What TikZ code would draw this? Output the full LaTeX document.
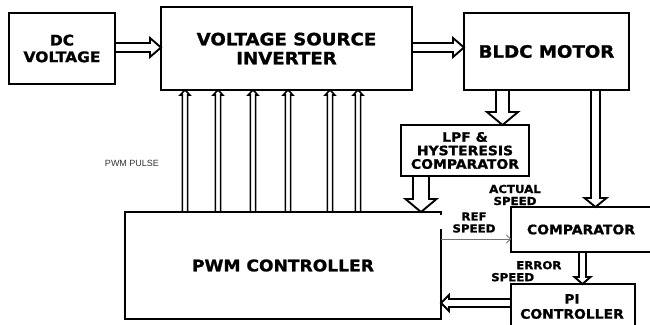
\documentclass[tikz,border=0pt]{standalone}
\usepackage{fontspec}
\setmainfont{DejaVu Sans}[BoldFeatures={FakeStretch=1.07,FakeBold=1.2}]
\newfontfamily\libsans{Liberation Sans}
\usetikzlibrary{calc,arrows.meta}
\tikzset{
  box/.style={draw, line width=1.9pt, outer sep=0pt, inner sep=0pt, align=center},
  fbig/.style={font=\bfseries\fontsize{17}{19}\selectfont},
  fdc/.style={font=\bfseries\fontsize{14.5}{16.7}\selectfont},
  fmid/.style={font=\bfseries\fontsize{13}{13.5}\selectfont},
  fpi/.style={font=\bfseries\fontsize{13}{15}\selectfont},
  fsmall/.style={font=\bfseries\fontsize{11}{12}\selectfont, inner sep=0pt, align=center},
  hollow/.style n args={3}{line width=1.9pt, line join=miter, to path={let \p1=(\tikztostart), \p2=(\tikztotarget), \p3=($(\p2)!#1!(\p1)$) in ($(\p1)!#2!90:(\p2)$) -- ($(\p3)!#2!-90:(\p1)$) -- ($(\p3)!#3!-90:(\p1)$) -- (\p2) -- ($(\p3)!#3!90:(\p1)$) -- ($(\p3)!#2!90:(\p1)$) -- ($(\p1)!#2!-90:(\p2)$)}},
}
\begin{document}
\begin{tikzpicture}[x=1pt,y=-1pt]
\useasboundingbox (0,0) rectangle (650,324);
% blocks
\node[box, fdc, minimum width=106pt, minimum height=71pt] (dc) at (62,48.5) {DC\\VOLTAGE};
\node[box, fbig, minimum width=251pt, minimum height=83pt] (vsi) at (286.5,48.5) {VOLTAGE SOURCE\\INVERTER};
\node[box, fbig, minimum width=165pt, minimum height=77pt] (bldc) at (546.5,51.5) {BLDC MOTOR};
\node[box, fmid, minimum width=128pt, minimum height=51pt] (lpf) at (465,150.5) {LPF \&\\HYSTERESIS\\COMPARATOR};
\node[box, draw=none, font=\bfseries\fontsize{16}{18}\selectfont, minimum width=316pt, minimum height=107pt] (pwm) at (283,265.5) {PWM CONTROLLER};
\draw[line width=1.9pt] (pwm.east |- 0,215) -- (pwm.north east) -- (pwm.north west) -- (pwm.south west) -- (pwm.south east) -- (pwm.east |- 0,229);
\node[box, fmid, minimum width=140pt, minimum height=45pt] (comp) at (581,229.5) {COMPARATOR};
\node[box, minimum width=124pt, minimum height=56pt] (pi) at (573,312) {};
\node[fpi, inner sep=0pt, align=center] (pitext) at (572,306.5) {PI\\CONTROLLER};
% labels
\node[font=\libsans\fontsize{9}{10}\selectfont, text=black!80, inner sep=0pt] (pwmpulse) at (132,163.5) {PWM PULSE};
\node[fsmall] (actual) at (515,195) {ACTUAL\\SPEED};
\node[fsmall] (ref) at (474,222.5) {REF\\SPEED};
\node[fsmall, align=left, anchor=west] (error) at (491,271.2) {\hspace*{25pt}ERROR\\SPEED};
% connectors
\draw[hollow={11pt}{4.5pt}{9.5pt}] (dc.east |- 0,47.5) to (vsi.west |- 0,47.5);
\draw[hollow={11pt}{4.5pt}{9.5pt}] (vsi.east |- 0,47.5) to (bldc.west |- 0,47.5);
\foreach \px in {185,218,253,288,330,358}
  \draw[hollow={5pt}{2.6pt}{4.8pt}, line width=1.6pt] (\px,0 |- pwm.north) to (\px,0 |- vsi.south);
\draw[hollow={13pt}{6.5pt}{15.5pt}] (502.5,0 |- bldc.south) to (502.5,0 |- lpf.north);
\draw[hollow={13pt}{8pt}{15.5pt}] (421,0 |- lpf.south) to (421,0 |- pwm.north);
\draw[hollow={9pt}{4.5pt}{11pt}] (595.5,0 |- bldc.south) to (595.5,0 |- comp.north);
\draw[hollow={7pt}{3.5pt}{8pt}] (582.5,0 |- comp.south) to (582.5,0 |- pi.north);
\draw[hollow={8pt}{4pt}{8pt}] (pi.west |- 0,303) to (pwm.east |- 0,303);
\draw[black!55, line width=0.8pt, -{Straight Barb[length=4pt,width=8pt]}] (pwm.east |- 0,239) -- (comp.west |- 0,239);
\end{tikzpicture}
\end{document}
